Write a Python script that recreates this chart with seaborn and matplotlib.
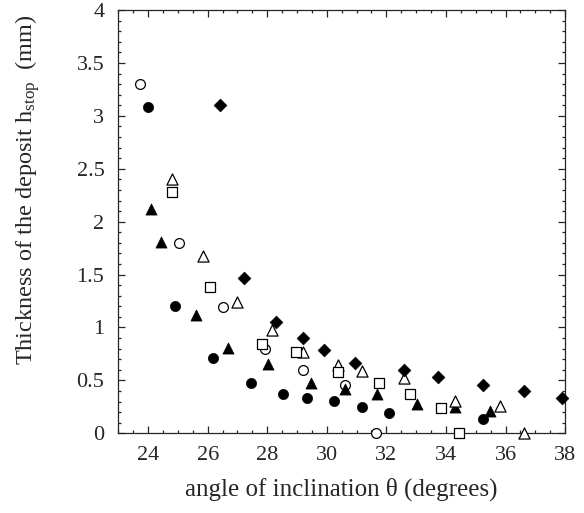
import pandas as pd
import matplotlib
matplotlib.use('Agg')
import matplotlib.pyplot as plt
from matplotlib.ticker import MultipleLocator
import seaborn as sns

# 데이터
open_circle_x = [23.73, 25.03, 26.52, 27.92, 29.21, 30.61, 31.65]
open_circle_y = [3.30, 1.80, 1.19, 0.80, 0.60, 0.46, 0.0]

filled_circle_x = [23.99, 24.91, 26.19, 27.45, 28.52, 29.32, 30.25, 31.19, 32.09, 35.25]
filled_circle_y = [3.08, 1.20, 0.71, 0.48, 0.37, 0.33, 0.305, 0.25, 0.19, 0.135]

filled_tri_x = [24.09, 24.43, 25.61, 26.67, 28.03, 29.46, 30.61, 31.67, 33.03, 34.30, 35.47]
filled_tri_y = [2.12, 1.81, 1.12, 0.81, 0.655, 0.48, 0.42, 0.37, 0.28, 0.25, 0.21]

open_tri_x = [24.79, 25.83, 27.00, 28.17, 29.21, 30.38, 31.17, 32.59, 34.30, 35.81, 36.61]
open_tri_y = [2.40, 1.68, 1.24, 0.98, 0.77, 0.65, 0.59, 0.52, 0.31, 0.26, 0.0]

open_sq_x = [24.79, 26.08, 27.81, 28.96, 30.38, 31.76, 32.81, 33.85, 34.44]
open_sq_y = [2.28, 1.38, 0.84, 0.77, 0.58, 0.48, 0.37, 0.24, 0.0]

diamond_x = [26.41, 27.23, 28.28, 29.21, 29.90, 30.94, 32.59, 33.74, 35.23, 36.62, 37.91]
diamond_y = [3.10, 1.47, 1.05, 0.90, 0.79, 0.66, 0.60, 0.535, 0.46, 0.40, 0.33]

x_ticks = [24, 26, 28, 30, 32, 34, 36, 38]
y_ticks = [0, 0.5, 1, 1.5, 2, 2.5, 3, 3.5, 4]
y_tick_labels = ['0', '0.5', '1', '1.5', '2', '2.5', '3', '3.5', '4']

x_label = 'angle of inclination θ (degrees)'
y_label = r'Thickness of the deposit h$_{\mathrm{stop}}$  (mm)'

# 스타일
sns.set_style('ticks')
plt.rcParams['font.family'] = ['Liberation Serif', 'DejaVu Serif']
plt.rcParams['mathtext.fontset'] = 'custom'
plt.rcParams['mathtext.rm'] = 'Liberation Serif'
plt.rcParams['mathtext.it'] = 'Liberation Serif:italic'

fig = plt.figure(figsize=(5.84, 5.13), dpi=100)
ax = fig.add_axes([0.2026, 0.1553, 0.765, 0.8252])

# (x, y, marker, 채움, 크기)
series = [
    (open_circle_x, open_circle_y, 'o', False, 50),
    (filled_circle_x, filled_circle_y, 'o', True, 54),
    (filled_tri_x, filled_tri_y, '^', True, 64),
    (open_tri_x, open_tri_y, '^', False, 64),
    (open_sq_x, open_sq_y, 's', False, 48),
    (diamond_x, diamond_y, 'D', True, 42),
]

for xs, ys, mk, filled, size in series:
    df = pd.DataFrame({'x': xs, 'y': ys})
    sns.scatterplot(data=df, x='x', y='y', ax=ax, marker=mk, s=size,
                    color='black' if filled else 'white',
                    edgecolor='black', linewidth=0.9 if not filled else 0.5,
                    clip_on=False, zorder=3)

ax.set_xlim(23, 38)
ax.set_ylim(0, 4)
ax.set_xticks(x_ticks)
ax.set_yticks(y_ticks)
ax.set_yticklabels(y_tick_labels)
ax.xaxis.set_minor_locator(MultipleLocator(0.5))
ax.yaxis.set_minor_locator(MultipleLocator(0.1))
ax.tick_params(which='both', direction='in', top=True, right=True,
               width=0.9, labelsize=16)
ax.tick_params(axis='x', which='major', length=5, pad=9)
ax.tick_params(axis='y', which='major', length=5, pad=10)
ax.tick_params(which='minor', length=2.5)
for sp in ax.spines.values():
    sp.set_linewidth(0.9)

ax.set_xlabel(x_label, fontsize=18)
ax.set_ylabel(y_label, fontsize=17.5)
ax.xaxis.set_label_coords(0.5, -0.105)
ax.yaxis.set_label_coords(-0.171, 0.575)

fig.savefig('out.png', dpi=100)
